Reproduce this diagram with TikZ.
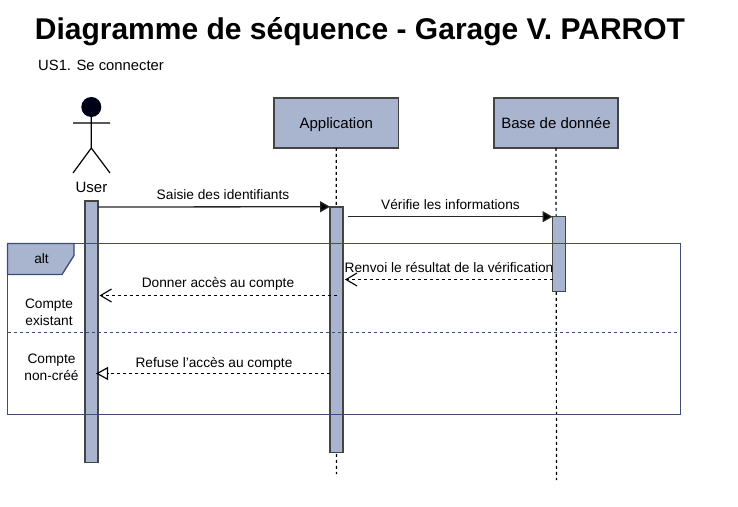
\documentclass[tikz,border=0pt]{standalone}
\usepackage{fontspec}
\setmainfont{Liberation Sans}
\usetikzlibrary{arrows.meta}
\definecolor{boxfill}{HTML}{A9B4CF}
\definecolor{boxline}{HTML}{444444}
\definecolor{framecol}{HTML}{3E4C78}
\tikzset{
  actorbox/.style={draw=boxline,fill=boxfill,line width=1.8pt,minimum width=124.5pt,minimum height=49.5pt,inner sep=0pt,outer sep=0pt,text height=13.8pt,text depth=3pt,font=\fontsize{15}{17}\selectfont},
  bar/.style={draw=boxline,fill=boxfill,line width=1.5pt,minimum width=13pt,inner sep=0pt,outer sep=0pt},
  lifeline/.style={draw=black,line width=1.2pt,dash pattern=on 3pt off 3pt},
  msg/.style={draw=black!85,line width=1.3pt,-{Triangle[length=10pt,width=11pt,fill=black]}},
  ret/.style={draw=black,line width=1.3pt,dash pattern=on 3pt off 3pt,-{Straight Barb[length=11pt,width=13pt,line width=1.1pt]}},
  refus/.style={draw=black,line width=1.3pt,dash pattern=on 3pt off 3pt,-{Triangle[open,length=12pt,width=13pt,line width=1.2pt]}},
  lbl/.style={inner sep=0pt,outer sep=0pt,align=center,font=\fontsize{13.7}{17}\selectfont},
  framestyle/.style={draw=framecol,line width=1.3pt},
}
\begin{document}
\begin{tikzpicture}[x=1pt,y=-1pt]
\useasboundingbox (0,0) rectangle (738,506);
\fill[white] (0,0) rectangle (738,506);
% title
\node[inner sep=0pt,font=\bfseries\fontsize{30}{34}\selectfont] (title) at (360,32) {Diagramme de séquence - Garage V. PARROT};
\node[inner sep=0pt,anchor=west,font=\fontsize{14.8}{16}\selectfont] (us) at (38,65.5) {US1. Se connecter};
% actor
\fill[black!90!blue] (91.3,107) circle (10);
\coordinate (neck) at (91.3,117);
\coordinate (hip) at (91.3,148);
\coordinate (armL) at (73,123);
\coordinate (armR) at (110,123);
\coordinate (legL) at (73,173);
\coordinate (legR) at (110,173);
\draw[black,line width=1.2pt] (neck) -- (hip) (armL) -- (armR) (legL) -- (hip) -- (legR);
\node[lbl,font=\fontsize{15}{17}\selectfont] (user) at (91.5,187) {User};
% lifelines and heads
\node[actorbox] (app) at (336.3,123) {Application};
\node[actorbox] (db) at (556,123) {Base de donnée};
\coordinate (append) at (336.5,474);
\coordinate (dbend) at (556.5,480);
\draw[lifeline] (app.south) -- (append);
\draw[lifeline] (db.south) -- (dbend);
% activations
\node[bar,minimum height=261.5pt] (ub) at (91.5,331.5) {};
\node[bar,minimum height=245.5pt] (ab) at (336.5,329.5) {};
\node[bar,minimum height=75pt] (db2) at (559,254.2) {};
% alt frame
\coordinate (divL) at (7.5,332.5);
\coordinate (divR) at (680.5,332.5);
\draw[framestyle] (7.5,243.5) rectangle (680.5,414.5);
\draw[framestyle,fill=boxfill] (7.5,243.5) -- (74,243.5) -- (74,255.5) -- (62,274.5) -- (7.5,274.5) -- cycle;
\draw[framestyle,dash pattern=on 3pt off 3pt] (divL) -- (divR);
\node[lbl] (alt) at (41.5,258.5) {alt};
% messages
\coordinate (y1) at (0,207);
\coordinate (s2) at (347.5,216.7);
\coordinate (y3) at (0,279.5);
\coordinate (t3) at (345,279.5);
\coordinate (s4) at (336.5,295.5);
\coordinate (t4) at (99.5,295.5);
\coordinate (y5) at (0,373.5);
\coordinate (t5) at (96,373.5);
\draw[msg] (ub.east |- y1) -- (ab.north west);
\draw[msg] (s2) -- (db2.north west);
\draw[ret] (db2.west |- y3) -- (t3);
\draw[ret] (s4) -- (t4);
\draw[refus] (ab.west |- y5) -- (t5);
% labels
\node[lbl] (l1) at (223,194.7) {Saisie des identifiants};
\node[lbl] (l2) at (450.5,204.7) {Vérifie les informations};
\node[lbl] (l3) at (449,267.7) {Renvoi le résultat de la vérification};
\node[lbl] (l4) at (218,283.7) {Donner accès au compte};
\node[lbl] (l5) at (214,363.7) {Refuse l'accès au compte};
\node[lbl] (c1) at (49,312.2) {Compte\\existant};
\node[lbl] (c2) at (51.5,367.2) {Compte\\non-créé};
\end{tikzpicture}
\end{document}
